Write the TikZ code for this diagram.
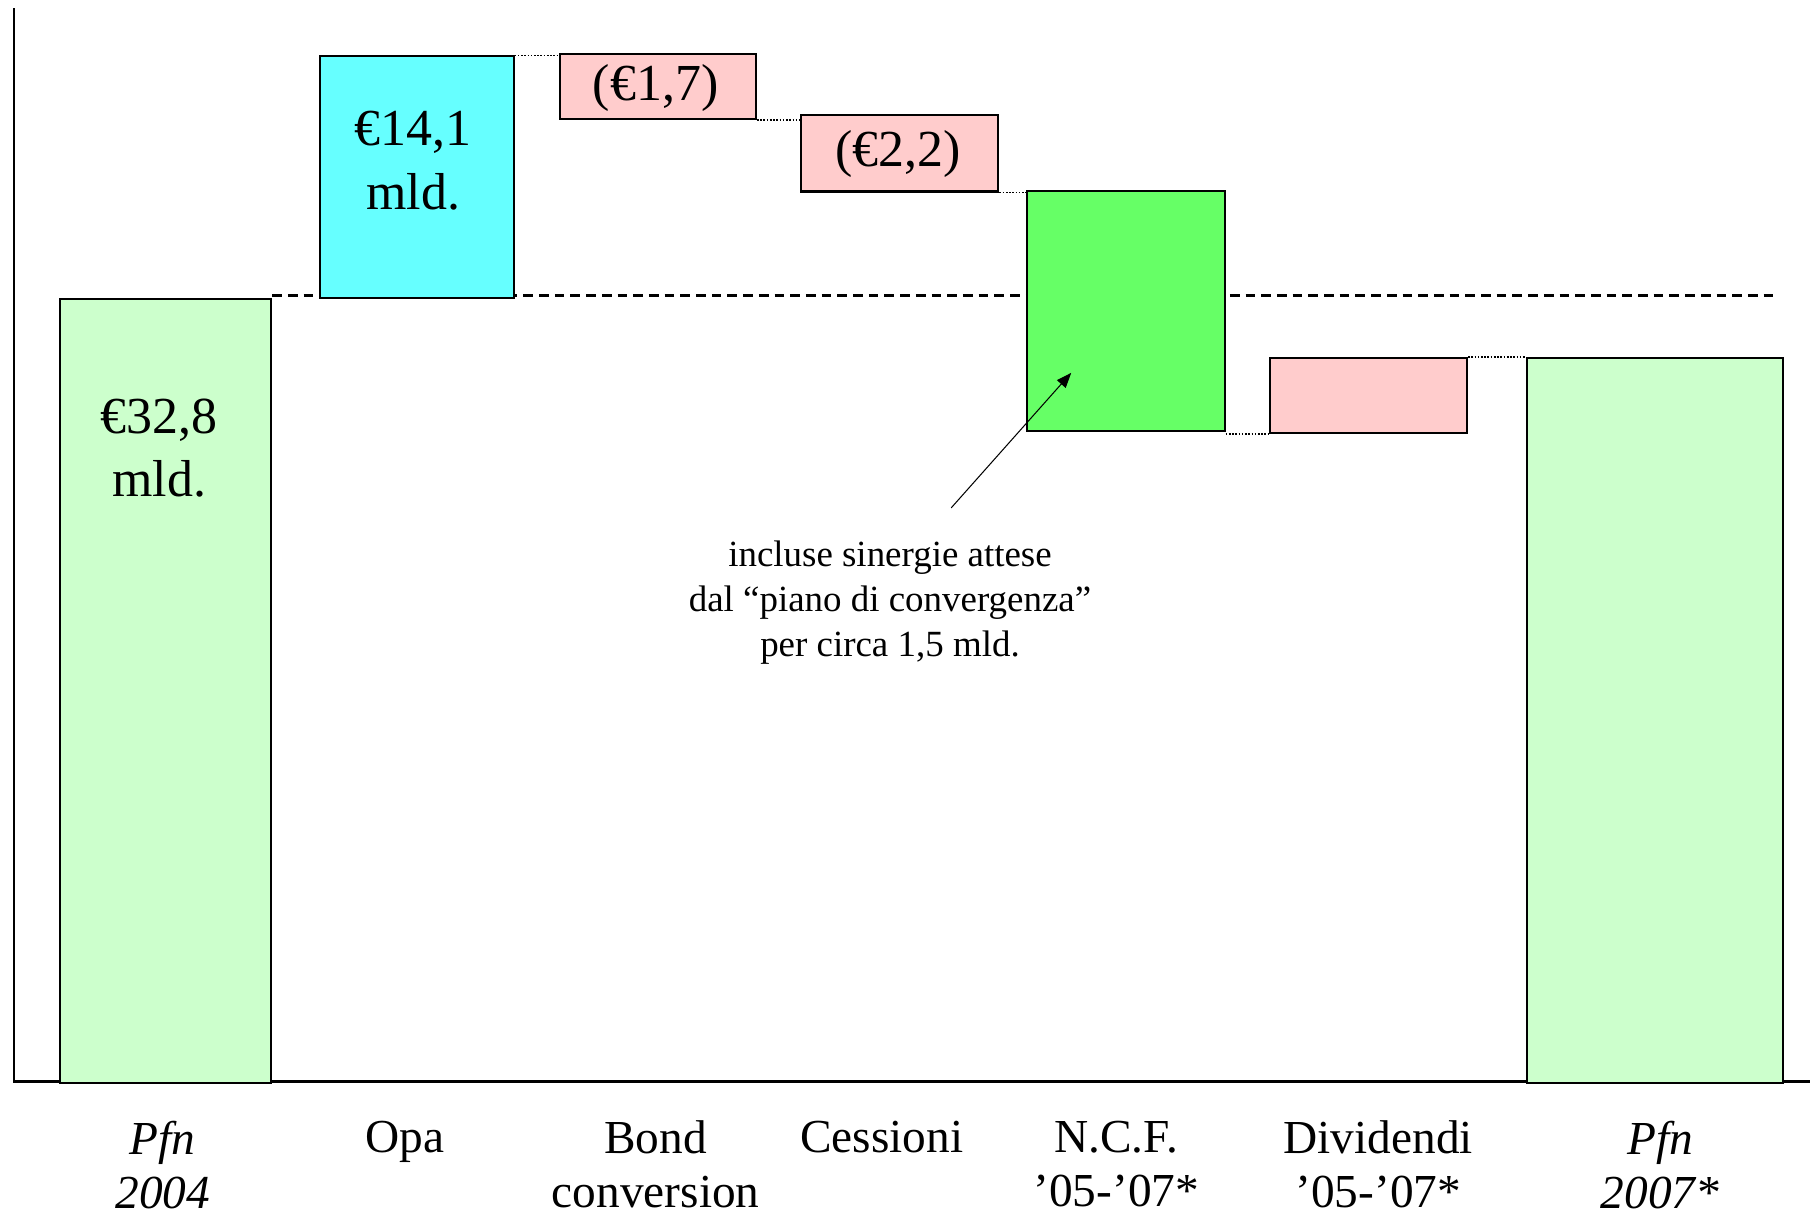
\documentclass[tikz,border=0pt]{standalone}
\usepackage{fontspec}
\setmainfont{Liberation Serif}
\usetikzlibrary{arrows.meta}
\definecolor{palegreen}{HTML}{CCFFCC}
\definecolor{aqua}{HTML}{66FFFF}
\definecolor{rosa}{HTML}{FFCCCC}
\definecolor{verde}{HTML}{66FF66}
\begin{document}
\begin{tikzpicture}[x=.5pt,y=-.5pt,line width=.9pt,
  bar/.style={draw,line width=.9pt,inner sep=0pt,anchor=north west},
  dots/.style={line width=.7pt,dash pattern=on .7pt off .7pt},
  barlbl/.style={anchor=center,inner sep=0pt,align=center,font=\fontsize{22.5}{27.5}\selectfont},
  catlbl/.style={anchor=north,inner sep=0pt,align=center,font=\fontsize{20.5}{23.5}\selectfont}]
\path[use as bounding box] (0,0) rectangle (1568,1054);
\coordinate (ytop) at (12,7);
\coordinate (orig) at (12,937);
\coordinate (xend) at (1568,937);
\coordinate (dashend) at (1539,256);
\draw[line width=1pt] (ytop) -- (orig) -- (xend);
\node[bar,fill=palegreen,minimum width=91.5pt,minimum height=339.5pt] (pfnA) at (51,258) {};
\draw[dash pattern=on 4.2pt off 2.6pt] (pfnA.north east) ++(0,-2) -- (dashend);
\node[bar,fill=aqua,minimum width=84pt,minimum height=104.5pt] (opa) at (276,48) {};
\node[bar,fill=rosa,minimum width=85pt,minimum height=28pt] (bond) at (484,46) {};
\node[bar,fill=rosa,minimum width=85.5pt,minimum height=33pt] (cess) at (693,99) {};
\node[bar,fill=verde,minimum width=85.5pt,minimum height=104pt] (ncf) at (889,164.5) {};
\node[bar,fill=rosa,minimum width=85.5pt,minimum height=32.5pt] (divd) at (1099,309) {};
\node[bar,fill=palegreen,minimum width=111pt,minimum height=314pt] (pfnB) at (1322,309) {};
\draw[dots] (opa.north east) -- (opa.north east -| bond.west);
\draw[dots] (bond.south east) -- (bond.south east -| cess.west);
\draw[dots] (cess.south east) -- (cess.south east -| ncf.west);
\draw[dots] (divd.south west -| ncf.east) -- (divd.south west);
\draw[dots] (divd.north east) -- (divd.north east -| pfnB.west);
\node[barlbl] (pfnAval) at (138,388) {€32,8\\mld.};
\node[barlbl] (opaval) at (358,139) {€14,1\\mld.};
\node[barlbl] (bondval) at (568,76) {(€1,7)};
\node[barlbl] (cessval) at (778,133) {(€2,2)};
\node[anchor=center,inner sep=0pt,align=center,font=\fontsize{16}{19.5}\selectfont] (note) at (771,522) {incluse sinergie attese\\dal “piano di convergenza”\\per circa 1,5 mld.};
\coordinate (notetail) at (824,440);
\coordinate (notetip) at (928,323);
\draw[line width=.45pt,-{Triangle[length=6.5pt,width=5pt]}] (notetail) -- (notetip);
\node[catlbl] (catA) at (141,970) {\itshape Pfn\\\itshape 2004};
\node[catlbl] (catB) at (351,970) {Opa};
\node[catlbl] (catC) at (568,970) {Bond\\conversion};
\node[catlbl] (catD) at (764,970) {Cessioni};
\node[catlbl] (catE) at (967,970) {N.C.F.\\’05-’07*};
\node[catlbl] (catF) at (1194,970) {Dividendi\\’05-’07*};
\node[catlbl] (catG) at (1438,970) {\itshape Pfn\\\itshape 2007*};
\end{tikzpicture}
\end{document}
